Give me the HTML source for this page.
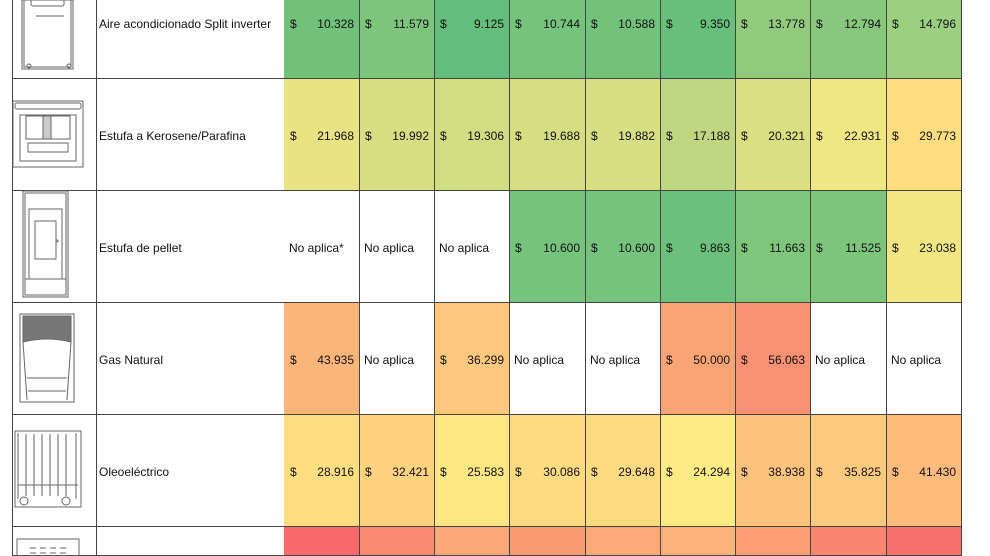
<!DOCTYPE html>
<html><head><meta charset="utf-8"><style>
html,body{margin:0;width:990px;height:556px;overflow:hidden}
body{background:#fff;font-family:"Liberation Sans",sans-serif;font-size:12px;color:#111;position:relative}
.c{position:absolute;box-sizing:border-box;border-right:1px solid #444;border-bottom:1px solid #444}
.d{position:absolute;left:6px}
.n{position:absolute;right:5px}
.t{position:absolute;left:3px;white-space:nowrap}
svg{position:absolute}
</style></head><body>
<div id="g"></div>
<script>
var cols=[284,359,434,509,585,660,735,810,886,961];
var rows=[-33,79,191,303,415,527];
var names=["Aire acondicionado Split inverter","Estufa a Kerosene/Parafina","Estufa de pellet","Gas Natural","Oleoeléctrico",""];
var data=[
[["10.328","#71c17b"],["11.579","#7dc57c"],["9.125","#63be7b"],["10.744","#75c37c"],["10.588","#73c27c"],["9.350","#66bf7b"],["13.778","#92cb7e"],["12.794","#88c87d"],["14.796","#9ccf7f"]],
[["21.968","#e8e483"],["19.992","#d7df82"],["19.306","#d1dd81"],["19.688","#d5de82"],["19.882","#d6df82"],["17.188","#bfd780"],["20.321","#dadf82"],["22.931","#f0e683"],["29.773","#fedd81"]],
[["No aplica*",""],["No aplica",""],["No aplica",""],["10.600","#75c37c"],["10.600","#75c37c"],["9.863","#6cc07b"],["11.663","#80c57c"],["11.525","#7ec57c"],["23.038","#f2e683"]],
[["43.935","#fcb579"],["No aplica",""],["36.299","#fdc87d"],["No aplica",""],["No aplica",""],["50.000","#fba476"],["56.063","#fa9173"],["No aplica",""],["No aplica",""]],
[["28.916","#fede81"],["32.421","#fed27f"],["25.583","#ffe784"],["30.086","#feda80"],["29.648","#feda80"],["24.294","#ffeb84"],["38.938","#fdc27c"],["35.825","#fdca7e"],["41.430","#fcbb7a"]],
[["","#f8696b"],["","#fa8a72"],["","#fca877"],["","#fb9b74"],["","#fcab78"],["","#fdb27a"],["","#fb9e75"],["","#fa8570"],["","#f8716d"]]
];
var h="";
for(var r=0;r<6;r++){
 var y=rows[r],hh=(r==5?29:112),ty=112/2-6;
 h+='<div class="c" style="left:12px;top:'+y+'px;width:85px;height:'+hh+'px;border-left:1px solid #444"></div>';
 h+='<div class="c" style="left:96px;top:'+y+'px;width:189px;height:'+hh+'px"><span class="t" style="top:'+ty+'px">'+names[r]+'</span></div>';
 for(var c=0;c<9;c++){
  var v=data[r][c],x=cols[c],w=cols[c+1]-x+1;
  var inner="";
  if(v[0].indexOf("No")==0) inner='<span class="t" style="left:5px;top:'+ty+'px">'+v[0]+'</span>';
  else if(v[0]) inner='<span class="d" style="top:'+ty+'px">$</span><span class="n" style="top:'+ty+'px">'+v[0]+'</span>';
  h+='<div class="c" style="left:'+x+'px;top:'+y+'px;width:'+w+'px;height:'+hh+'px;background:'+(v[1]||'#fff')+';z-index:'+(20-c)+'">'+inner+'</div>';
 }
}
document.getElementById("g").innerHTML=h;
</script>
<svg width="100" height="556" style="left:0;top:0;z-index:30" fill="none" stroke="#666" stroke-width="1">
<rect x="22" y="0" width="51" height="69"/><rect x="24" y="-2" width="47" height="69"/>
<rect x="31" y="-2" width="33" height="8" rx="2"/><line x1="36" y1="16" x2="64" y2="16"/>
<circle cx="29" cy="66" r="2"/><circle cx="69" cy="66" r="2"/>
<rect x="13" y="101" width="70" height="66"/><rect x="15" y="103" width="66" height="6" rx="2"/>
<rect x="20" y="115" width="56" height="46"/><rect x="26" y="116" width="44" height="23"/>
<rect x="43" y="116" width="8" height="23" fill="#ccc"/><rect x="28" y="143" width="40" height="9"/>
<rect x="23" y="191" width="45" height="106"/><rect x="25" y="193" width="41" height="102"/>
<rect x="29" y="209" width="33" height="70"/><rect x="35" y="221" width="21" height="38"/>
<line x1="25" y1="279" x2="66" y2="279"/><circle cx="57" cy="241" r="1"/>
<rect x="20" y="314" width="54" height="88"/><path d="M23 316h48v26q-24-6-48 0z" fill="#777"/>
<path d="M23 342l4 58M71 342l-4 58M27 378h40M28 391h38"/>
<rect x="15" y="431" width="66" height="76"/><path d="M18 433v66M26 434v62M34 434v62M42 434v62M50 434v62M58 434v62M66 434v62M76 433v66M18 485h60"/>
<circle cx="24" cy="501" r="4"/><circle cx="66" cy="501" r="4"/>
<rect x="17" y="539" width="62" height="17"/><path d="M30 548h6M40 548h6M50 548h6M60 548h6M30 553h6M40 553h6M50 553h6M60 553h6"/>
</svg>
</body></html>
